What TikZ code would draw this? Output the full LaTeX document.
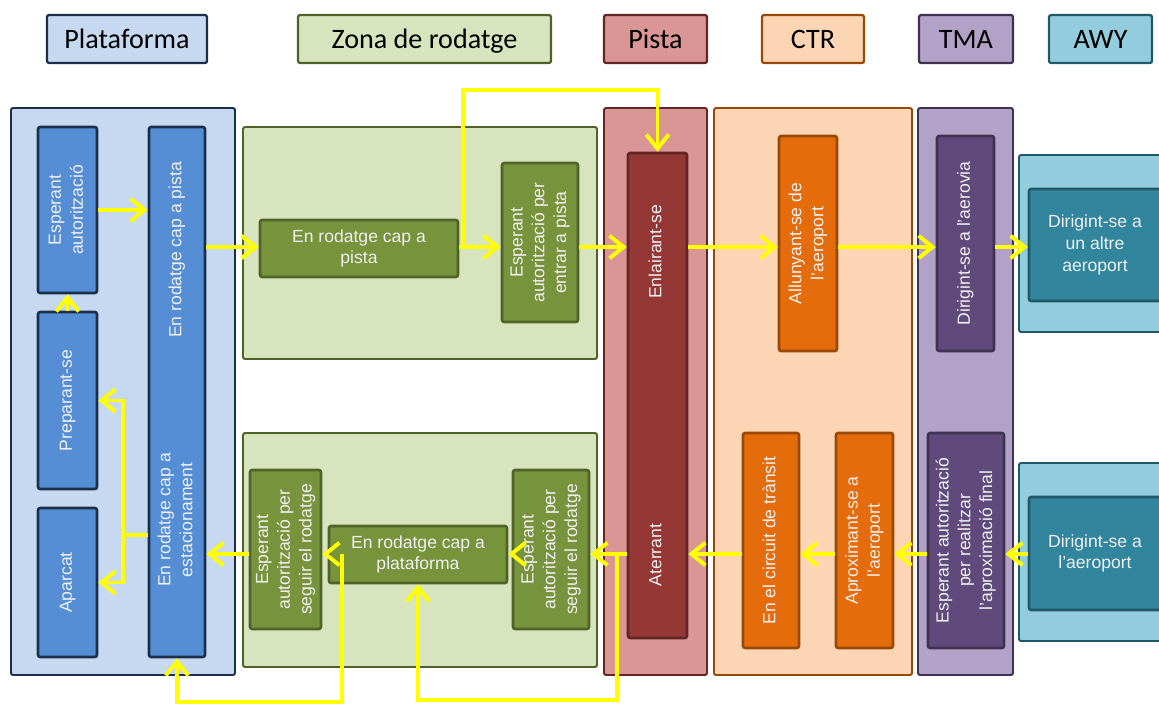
\documentclass[tikz,border=0pt]{standalone}
\usepackage{fontspec}
\setmainfont{Liberation Sans}
\newfontfamily\calfont{Carlito}
\usetikzlibrary{arrows.meta,fit,calc}

\definecolor{platfill}{HTML}{C6D9F1}
\definecolor{platdark}{HTML}{558ED5}
\definecolor{platline}{HTML}{1B2F4B}
\definecolor{zonafill}{HTML}{D7E4BD}
\definecolor{zonadark}{HTML}{77933C}
\definecolor{zonaline}{HTML}{4F6228}
\definecolor{pistfill}{HTML}{D99694}
\definecolor{pistdark}{HTML}{953735}
\definecolor{pistline}{HTML}{632523}
\definecolor{ctrfill}{HTML}{FCD5B5}
\definecolor{ctrdark}{HTML}{E46C0A}
\definecolor{ctrline}{HTML}{984807}
\definecolor{tmafill}{HTML}{B3A2C7}
\definecolor{tmadark}{HTML}{604A7B}
\definecolor{tmaline}{HTML}{403152}
\definecolor{awyfill}{HTML}{93CDDD}
\definecolor{awydark}{HTML}{31859C}
\definecolor{awyline}{HTML}{215968}
\definecolor{flowyellow}{HTML}{FFFF00}

% rotated multi-line label
\newcommand\vtext[1]{\rotatebox{90}{\begin{tabular}{@{}c@{}}#1\end{tabular}}}

\tikzset{
  legbox/.style={draw, rounded corners=1.5pt, line width=1.6pt, inner sep=0pt},
  zonebox/.style={draw, rounded corners=1.5pt, line width=1.4pt, inner sep=0pt},
  stbox/.style={draw, rounded corners=1.5pt, line width=1.8pt, inner sep=0pt},
  stlabel/.style={inner sep=0pt, text=white!94!black, font=\fontsize{12.5}{15.5}\selectfont},
  legtext/.style={label={[inner sep=0pt, text height=13pt, text depth=0pt, font=\calfont\fontsize{20}{24}\selectfont]center:#1}},
  vlab/.style={label={[stlabel]center:{\vtext{#1}}}},
  hlab/.style={label={[stlabel, align=center]center:{#1}}},
  plat/.style={fill=platfill, draw=platline},
  platin/.style={fill=platdark, draw=platline},
  zona/.style={fill=zonafill, draw=zonaline},
  zonain/.style={fill=zonadark, draw=zonaline},
  pist/.style={fill=pistfill, draw=pistline},
  pistin/.style={fill=pistdark, draw=pistline},
  ctr/.style={fill=ctrfill, draw=ctrline},
  ctrin/.style={fill=ctrdark, draw=ctrline},
  tma/.style={fill=tmafill, draw=tmaline},
  tmain/.style={fill=tmadark, draw=tmaline},
  awy/.style={fill=awyfill, draw=awyline},
  awyin/.style={fill=awydark, draw=awyline},
  yarrow/.style={draw=flowyellow, line width=2.8pt, -{Straight Barb[length=10pt,width=16pt]}}
}

\begin{document}
\begin{tikzpicture}[x=0.025cm,y=-0.025cm]
\useasboundingbox (0,0) rectangle (1159,706);
\clip (0,0) rectangle (1159,706);

% legend
\node[legbox, plat, fit={(47,15) (207,63)}, legtext=Plataforma] (legplat) {};
\node[legbox, zona, fit={(298,15) (551,63)}, legtext=Zona de rodatge] (legzona) {};
\node[legbox, pist, fit={(604,15) (707,63)}, legtext=Pista] (legpist) {};
\node[legbox, ctr, fit={(762,15) (864,63)}, legtext=CTR] (legctr) {};
\node[legbox, tma, fit={(919,15) (1013,63)}, legtext=TMA] (legtma) {};
\node[legbox, awy, fit={(1049,15) (1152,63)}, legtext=AWY] (legawy) {};

% zones
\node[zonebox, plat, fit={(11,108) (235,675)}] (zplat) {};
\node[zonebox, zona, fit={(243,127) (597,359)}] (zzonaup) {};
\node[zonebox, zona, fit={(243,433) (597,667)}] (zzonadn) {};
\node[zonebox, pist, fit={(604,108) (707,675)}] (zpist) {};
\node[zonebox, ctr, fit={(714,108) (912,675)}] (zctr) {};
\node[zonebox, tma, fit={(918,108) (1013,675)}] (ztma) {};
\node[zonebox, awy, fit={(1019,155) (1180,332)}] (zawyup) {};
\node[zonebox, awy, fit={(1019,463) (1180,641)}] (zawydn) {};

% plataforma
\node[stbox, platin, fit={(38,127) (97,293)}, vlab={Esperant\\autorització}] (espaut) {};
\node[stbox, platin, fit={(38,312) (97,489)}, vlab={Preparant-se}] (prep) {};
\node[stbox, platin, fit={(38,508) (97,657)}, vlab={Aparcat}] (aparc) {};
\node[stbox, platin, fit={(149,127) (205,657)}] (taxi) {};
\node[stlabel] (taxipista) at (177,250) {\vtext{En rodatge cap a pista}};
\node[stlabel] (taxiest) at (177,520) {\vtext{En rodatge cap a\\estacionament}};

% zona de rodatge
\node[stbox, zonain, fit={(260,220) (458,277)}, hlab={En rodatge cap a\\pista}] (rodpista) {};
\node[stbox, zonain, fit={(502,163) (578,322)}, vlab={Esperant\\autorització per\\entrar a pista}] (espent) {};
\node[stbox, zonain, fit={(250,470) (321,629)}, vlab={Esperant\\autorització per\\seguir el rodatge}] (espseg1) {};
\node[stbox, zonain, fit={(329,526) (507,583)}, hlab={En rodatge cap a\\plataforma}] (rodplat) {};
\node[stbox, zonain, fit={(513,470) (589,629)}, vlab={Esperant\\autorització per\\seguir el rodatge}] (espseg2) {};

% pista
\node[stbox, pistin, fit={(628,153) (687,638)}] (enl) {};
\node[stlabel] (enllab) at (657,252) {\vtext{Enlairant-se}};
\node[stlabel] (aterlab) at (657,555) {\vtext{Aterrant}};

% ctr
\node[stbox, ctrin, fit={(779,136) (837,351)}, vlab={Allunyant-se de\\l'aeroport}] (allun) {};
\node[stbox, ctrin, fit={(743,433) (799,648)}, vlab={En el circuit de trànsit}] (circ) {};
\node[stbox, ctrin, fit={(836,433) (893,648)}, vlab={Aproximant-se a\\l'aeroport}] (aprox) {};

% tma
\node[stbox, tmain, fit={(937,136) (994,351)}, vlab={Dirigint-se a l'aerovia}] (aerov) {};
\node[stbox, tmain, fit={(928,433) (1004,648)}, vlab={Esperant autorització\\per realitzar\\l'aproximació final}] (espfin) {};

% awy
\node[stbox, awyin, fit={(1029,189) (1161,301)}, hlab={Dirigint-se a\\un altre\\aeroport}] (altre) {};
\node[stbox, awyin, fit={(1029,497) (1161,610)}, hlab={Dirigint-se a\\l'aeroport}] (dirapt) {};

\coordinate (up) at (0,247);
\coordinate (dn) at (0,554);
\coordinate (split) at (123,535);

% departures
\draw[yarrow] (prep.north) -- (espaut.south);
\draw[yarrow] (espaut.east) -- (espaut.east -| taxi.west);
\draw[yarrow] (taxi.east |- up) -- (rodpista.west |- up);
\draw[yarrow] (rodpista.east |- up) -- (espent.west |- up);
\draw[yarrow] (espent.east |- up) -- (enl.west |- up);
\draw[yarrow] (rodpista.east |- up) ++(4,0) -- ++(0,-157) -| (enl.north);
\draw[yarrow] (enl.east |- up) -- (allun.west |- up);
\draw[yarrow] (allun.east |- up) -- (aerov.west |- up);
\draw[yarrow] (aerov.east |- up) -- (altre.west |- up);

% arrivals
\draw[yarrow] (dirapt.west |- dn) -- (espfin.east |- dn);
\draw[yarrow] (espfin.west |- dn) -- (aprox.east |- dn);
\draw[yarrow] (aprox.west |- dn) -- (circ.east |- dn);
\draw[yarrow] (circ.west |- dn) -- (enl.east |- dn);
\draw[yarrow] (enl.west |- dn) -- (espseg2.east |- dn);
\draw[yarrow] (enl.west |- dn) ++(-10,0) -- ++(0,146) -| (rodplat.south);
\draw[yarrow] (espseg2.west |- dn) -- (rodplat.east |- dn);
\draw[yarrow] (rodplat.west |- dn) -- (espseg1.east |- dn);
\draw[yarrow] (rodplat.west |- dn) ++(14,0) -- ++(0,148) -| (taxi.south);
\draw[yarrow] (espseg1.west |- dn) -- (taxi.east |- dn);
\draw[yarrow] (taxi.west |- split) -- (split) |- (prep.east);
\draw[yarrow] (split) |- (aparc.east);
\end{tikzpicture}
\end{document}
